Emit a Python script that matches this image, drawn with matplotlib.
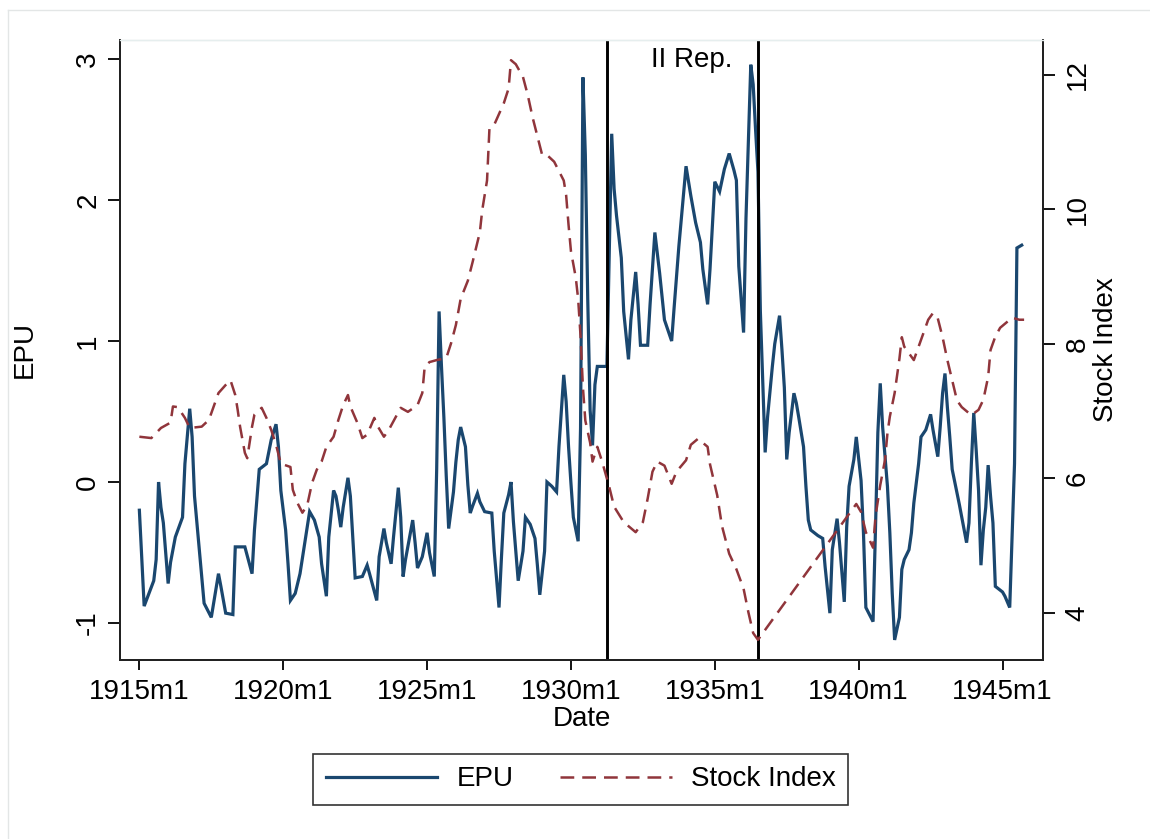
import numpy as np
import matplotlib
matplotlib.use("Agg")
import matplotlib.pyplot as plt
from matplotlib.lines import Line2D

plt.rcParams['font.family'] = ['Liberation Sans', 'DejaVu Sans']
plt.rcParams['axes.unicode_minus'] = False

# -------------------------------
# Data (time in months since 1915m1)
epu_t = [0, 2, 6, 7, 8, 9, 10, 12, 13, 15, 18, 19, 21, 22, 23, 25, 27, 30, 33, 34,
         36, 39, 40, 44, 47, 48, 50, 53, 55, 57, 58, 59, 61, 62, 63, 65, 67, 69, 71, 73,
         75, 76, 78, 79, 81, 82, 83, 84, 85, 87, 88, 89, 90, 93, 95, 96, 99, 100, 102, 103,
         105, 106, 108, 109, 110, 111, 114, 115, 116, 118, 120, 121, 123, 124, 125, 126, 127, 128, 129, 131,
         132, 133, 134, 136, 137, 138, 139, 141, 142, 144, 147, 148, 150, 151, 152, 154, 155, 156, 158, 160,
         161, 163, 165, 166, 167, 169, 170, 172, 174, 175, 176, 177, 178, 179, 180, 181, 183, 184, 185, 186,
         187, 188, 189, 190, 191, 194, 195, 196, 197, 198, 199, 201, 202, 204, 205, 207, 208, 209, 212, 213,
         215, 217, 219, 222, 223, 225, 228, 230, 232, 234, 235, 237, 238, 240, 242, 244, 246, 248, 249, 250,
         252, 253, 255, 256, 257, 258, 259, 260, 261, 262, 264, 265, 267, 268, 269, 270, 271, 273, 274, 275,
         277, 278, 279, 280, 283, 285, 286, 288, 289, 291, 292, 294, 295, 296, 298, 299, 301, 302, 303, 306,
         307, 308, 309, 310, 312, 313, 314, 315, 317, 318, 319, 321, 322, 323, 325, 326, 328, 330, 331, 333,
         334, 335, 336, 337, 338, 339, 342, 343, 345, 346, 347, 348, 349, 350, 351, 352, 353, 354, 355, 356,
         357, 360, 361, 363, 364, 365, 366, 368]
epu_val = [-0.20, -0.88, -0.70, -0.55, 0.00, -0.18, -0.29, -0.72, -0.57, -0.39, -0.25, 0.13, 0.52, 0.32, -0.10, -0.48, -0.86, -0.96, -0.65, -0.74,
           -0.93, -0.94, -0.46, -0.46, -0.65, -0.34, 0.09, 0.13, 0.30, 0.41, 0.25, -0.06, -0.34, -0.58, -0.84, -0.79, -0.65, -0.43, -0.21, -0.27,
           -0.39, -0.58, -0.81, -0.39, -0.06, -0.10, -0.20, -0.32, -0.18, 0.03, -0.10, -0.39, -0.68, -0.67, -0.59, -0.65, -0.84, -0.53, -0.33, -0.43,
           -0.58, -0.39, -0.04, -0.25, -0.67, -0.55, -0.27, -0.43, -0.61, -0.53, -0.36, -0.50, -0.67, 0.09, 1.21, 0.82, 0.46, 0.04, -0.33, -0.07,
           0.14, 0.30, 0.39, 0.25, -0.02, -0.22, -0.17, -0.08, -0.14, -0.21, -0.22, -0.49, -0.89, -0.54, -0.22, -0.09, 0.00, -0.28, -0.70, -0.49,
           -0.25, -0.30, -0.40, -0.59, -0.80, -0.49, 0.00, -0.03, -0.07, 0.25, 0.51, 0.76, 0.57, 0.25, -0.01, -0.25, -0.42, 0.38, 2.87, 2.32,
           1.30, 0.51, 0.26, 0.69, 0.82, 0.82, 0.82, 1.65, 2.47, 2.08, 1.89, 1.59, 1.21, 0.87, 1.15, 1.49, 1.26, 0.97, 0.97, 1.26,
           1.77, 1.48, 1.15, 1.00, 1.23, 1.67, 2.24, 2.03, 1.84, 1.70, 1.51, 1.26, 1.51, 2.13, 2.06, 2.22, 2.33, 2.21, 2.14, 1.53,
           1.06, 1.87, 2.96, 2.82, 2.50, 2.20, 1.21, 0.71, 0.21, 0.46, 0.82, 0.98, 1.18, 0.94, 0.67, 0.16, 0.35, 0.63, 0.56, 0.46,
           0.25, -0.03, -0.27, -0.34, -0.38, -0.40, -0.60, -0.93, -0.48, -0.26, -0.43, -0.85, -0.32, -0.03, 0.16, 0.32, 0.01, -0.36, -0.89, -0.99,
           -0.34, 0.35, 0.70, 0.39, -0.03, -0.36, -0.79, -1.12, -0.96, -0.62, -0.55, -0.48, -0.36, -0.15, 0.13, 0.32, 0.37, 0.48, 0.37, 0.18,
           0.39, 0.63, 0.77, 0.53, 0.32, 0.09, -0.16, -0.25, -0.43, -0.29, 0.13, 0.49, 0.23, -0.06, -0.59, -0.34, -0.18, 0.12, -0.10, -0.29,
           -0.74, -0.78, -0.81, -0.89, -0.39, 0.13, 1.66, 1.68]

stock_t = [0, 5, 9, 13, 14, 16, 19, 21, 26, 29, 31, 33, 36, 38, 40, 41, 42, 44, 45, 47,
           48, 51, 53, 55, 57, 59, 63, 64, 66, 68, 70, 72, 74, 76, 78, 81, 83, 85, 87, 88,
           91, 93, 95, 98, 99, 102, 104, 107, 109, 112, 116, 118, 119, 121, 124, 128, 130, 132, 134, 137,
           139, 142, 143, 145, 146, 148, 150, 152, 154, 155, 157, 160, 162, 164, 166, 168, 170, 173, 175, 177,
           178, 179, 180, 182, 183, 184, 185, 186, 188, 189, 191, 193, 196, 198, 202, 207, 210, 212, 214, 216,
           219, 222, 224, 228, 230, 233, 237, 238, 241, 243, 246, 249, 252, 254, 256, 258, 299, 301, 303, 306,
           307, 309, 311, 312, 313, 315, 317, 318, 319, 321, 323, 325, 327, 329, 331, 333, 335, 337, 339, 341,
           343, 347, 350, 352, 354, 355, 357, 359, 362, 364, 367, 369]
stock_val = [6.62, 6.60, 6.75, 6.83, 7.07, 7.06, 6.90, 6.75, 6.77, 6.87, 7.07, 7.27, 7.39, 7.46, 7.24, 7.02, 6.77, 6.38, 6.30, 6.77,
             6.95, 7.05, 6.90, 6.72, 6.50, 6.22, 6.17, 5.83, 5.63, 5.49, 5.60, 5.93, 6.13, 6.25, 6.47, 6.62, 6.87, 7.09, 7.24, 7.07,
             6.82, 6.60, 6.65, 6.90, 6.80, 6.62, 6.72, 6.92, 7.05, 6.99, 7.09, 7.27, 7.66, 7.73, 7.76, 7.79, 8.01, 8.28, 8.67, 8.94,
             9.22, 9.66, 9.99, 10.43, 11.20, 11.26, 11.42, 11.58, 11.80, 12.22, 12.16, 11.97, 11.70, 11.37, 11.09, 10.81, 10.81, 10.71, 10.57, 10.43,
             10.21, 9.77, 9.38, 8.99, 8.67, 8.12, 7.35, 6.86, 6.53, 6.25, 6.47, 6.25, 5.87, 5.58, 5.35, 5.20, 5.35, 5.70, 6.10, 6.25,
             6.19, 5.92, 6.10, 6.27, 6.50, 6.59, 6.47, 6.21, 5.75, 5.29, 4.88, 4.65, 4.36, 4.01, 3.70, 3.60, 5.62, 5.50, 5.20, 4.97,
             5.43, 5.90, 6.28, 6.67, 6.92, 7.27, 7.78, 8.10, 7.96, 7.86, 7.76, 7.96, 8.16, 8.36, 8.46, 8.38, 8.10, 7.76, 7.46, 7.16,
             7.06, 6.94, 7.02, 7.17, 7.51, 7.91, 8.11, 8.24, 8.33, 8.39, 8.36, 8.36]

# period markers: 1931m4 and 1936m7
events = [195, 258]
event_label = "II Rep."

xtick_pos = [0, 60, 120, 180, 240, 300, 360]
xtick_lab = ["1915m1", "1920m1", "1925m1", "1930m1", "1935m1", "1940m1", "1945m1"]

navy = "#1a476f"
maroon = "#90353b"
fs = 20
dash = (5.5, 3.2)

# -------------------------------
fig = plt.figure(figsize=(11.5, 8.39), dpi=100)
ax = fig.add_axes([0.1043, 0.2134, 0.8027, 0.7389])
ax2 = ax.twinx()

ax.plot(epu_t, epu_val, color=navy, lw=2.3, solid_joinstyle='miter', zorder=3)
ax2.plot(stock_t, stock_val, color=maroon, lw=1.8, dashes=dash, zorder=2)

for e in events:
    ax.axvline(e, color="black", lw=2.1, zorder=4)
ax.text(230.5, 2.99, event_label, ha="center", va="center", fontsize=fs)

ax.set_xlim(-8.1, 376.9)
ax.set_ylim(-1.262, 3.135)
ax2.set_ylim(3.30, 12.52)

ax.set_xticks(xtick_pos)
ax.set_xticklabels(xtick_lab)
ax.set_yticks([-1, 0, 1, 2, 3])
ax2.set_yticks([4, 6, 8, 10, 12])

ax.tick_params(axis="x", length=7.5, width=1.3, labelsize=fs, pad=6)
ax.tick_params(axis="y", length=8.5, width=1.3, labelsize=fs, pad=5)
ax2.tick_params(axis="y", length=8.5, width=1.3, labelsize=fs, pad=7)
for lab in ax.get_yticklabels():
    lab.set_rotation(90)
    lab.set_va("center")
for lab in ax2.get_yticklabels():
    lab.set_rotation(90)
    lab.set_va("center")

ax.set_xlabel("Date", fontsize=fs, labelpad=1)
ax.set_ylabel("EPU", fontsize=fs, labelpad=27)
ax2.set_ylabel("Stock Index", fontsize=fs, labelpad=2)

for a in (ax, ax2):
    a.spines["top"].set_color("#e6eeee")
    a.spines["top"].set_linewidth(1.0)
    for s in ("left", "right", "bottom"):
        a.spines[s].set_linewidth(1.4)
        a.spines[s].set_color("#222222")

handles = [Line2D([], [], color=navy, lw=2.3),
           Line2D([], [], color=maroon, lw=1.8, dashes=dash)]
leg = fig.legend(handles, ["EPU", "Stock Index"], loc="center", bbox_to_anchor=(0.505, 0.071),
                 ncol=2, fontsize=fs, frameon=True, fancybox=False, handlelength=4.0,
                 columnspacing=1.7, borderpad=0.45, handletextpad=0.7)
leg.get_frame().set_edgecolor("black")
leg.get_frame().set_linewidth(1.2)

# faint outer frame of the graph region
fig.add_artist(Line2D([0.007, 1.0], [0.988, 0.988], color="#e3e6e6", lw=1.0))
fig.add_artist(Line2D([0.007, 0.007], [0.0, 0.988], color="#e3e6e6", lw=1.0))

fig.savefig("out.png", dpi=100)
